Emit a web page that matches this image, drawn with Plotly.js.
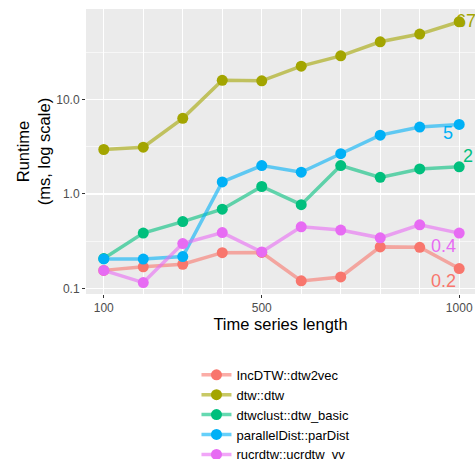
<!DOCTYPE html>
<html>
<head>
<meta charset="utf-8">
<script src="https://cdn.plot.ly/plotly-3.0.1.min.js"></script>
<style>html,body{margin:0;padding:0;background:#fff;}#chart{width:475px;height:459px;}</style>
</head>
<body>
<div id="chart"></div>
<script>
const lengths = [100, 200, 300, 400, 500, 600, 700, 800, 900, 1000];
const seriesNames = ['IncDTW::dtw2vec', 'dtw::dtw', 'dtwclust::dtw_basic', 'parallelDist::parDist', 'rucrdtw::ucrdtw_vv'];
const incdtw = [0.155, 0.169, 0.18, 0.239, 0.24, 0.12, 0.132, 0.275, 0.272, 0.162];
const dtw = [2.96, 3.13, 6.33, 16.0, 15.8, 22.6, 29.1, 41.0, 49.5, 66.8];
const dtwclust = [0.207, 0.385, 0.51, 0.69, 1.20, 0.77, 2.0, 1.50, 1.84, 1.94];
const pardist = [0.205, 0.204, 0.217, 1.34, 2.0, 1.70, 2.67, 4.2, 5.11, 5.46];
const ucrdtw = [0.155, 0.115, 0.298, 0.39, 0.243, 0.449, 0.414, 0.343, 0.471, 0.385];
const xTickVals = [100, 500, 1000];
const xTickText = ['100', '500', '1000'];
const yTickVals = [0.1, 1, 10];
const yTickText = ['0.1', '1.0', '10.0'];

const colors = ['#F8766D', '#A3A500', '#00BF7D', '#00B0F6', '#E76BF3'];
const lineColors = ['rgba(248,118,109,0.6)', 'rgba(163,165,0,0.6)', 'rgba(0,191,125,0.6)', 'rgba(0,176,246,0.6)', 'rgba(231,107,243,0.6)'];
const allSeries = [incdtw, dtw, dtwclust, pardist, ucrdtw];

const traces = allSeries.map((vals, i) => ({
  x: lengths, y: vals, name: seriesNames[i], type: 'scatter', mode: 'lines+markers',
  line: {color: lineColors[i], width: 3.5},
  marker: {color: colors[i], size: 11}
}));

// end labels: offsets in px relative to last point
const labelShift = [[-16, -12], [7, 1], [9, 11], [-11, -9], [-16, -13]];
const annotations = allSeries.map((vals, i) => {
  const v = vals[vals.length - 1];
  return {
    x: lengths[lengths.length - 1], y: Math.log10(v), xref: 'x', yref: 'y',
    text: v >= 1 ? String(Math.round(v)) : v.toFixed(1),
    showarrow: false, xshift: labelShift[i][0], yshift: labelShift[i][1],
    font: {size: 18, color: colors[i], family: 'Liberation Sans, Arial, sans-serif'}
  };
});

const minorX = lengths.filter(v => xTickVals.indexOf(v) < 0);

const layout = {
  width: 475, height: 459,
  margin: {l: 86, r: 0, t: 9, b: 165, autoexpand: false},
  paper_bgcolor: '#FFFFFF', plot_bgcolor: '#EBEBEB',
  font: {family: 'Liberation Sans, Arial, sans-serif', color: '#000000'},
  xaxis: {
    range: [55, 1040], tickvals: xTickVals, ticktext: xTickText,
    ticks: 'outside', ticklen: 3, tickcolor: '#333333', tickwidth: 1,
    gridcolor: '#FFFFFF', gridwidth: 1.1, zeroline: false, showline: false,
    tickfont: {size: 12, color: '#4D4D4D'}, automargin: false,
    minor: {tickvals: minorX, gridcolor: '#FFFFFF', gridwidth: 1.1, ticklen: 0, showgrid: true},
    title: {text: 'Time series length', font: {size: 16.5, color: '#000000'}, standoff: 4}
  },
  yaxis: {
    type: 'log', range: [-1.06, 1.96], tickvals: yTickVals, ticktext: yTickText,
    ticks: 'outside', ticklen: 3, tickcolor: '#333333', tickwidth: 1,
    gridcolor: '#FFFFFF', gridwidth: 1.1, zeroline: false, showline: false,
    tickfont: {size: 12, color: '#4D4D4D'}, automargin: false,
    minor: {tickvals: [0.316, 3.16, 31.6], gridcolor: '#FFFFFF', gridwidth: 0.6, ticklen: 0, showgrid: true},
    title: {text: 'Runtime<br>(ms, log scale)', font: {size: 16.5, color: '#000000'}, standoff: 1}
  },
  legend: {
    x: 0.284, xanchor: 'left', y: -0.231, yanchor: 'top', orientation: 'v',
    bgcolor: 'rgba(0,0,0,0)', itemwidth: 30,
    font: {size: 13, color: '#000000'}
  },
  annotations: annotations,
  showlegend: true
};

Plotly.newPlot('chart', traces, layout, {displayModeBar: false, staticPlot: true});
</script>
</body>
</html>
